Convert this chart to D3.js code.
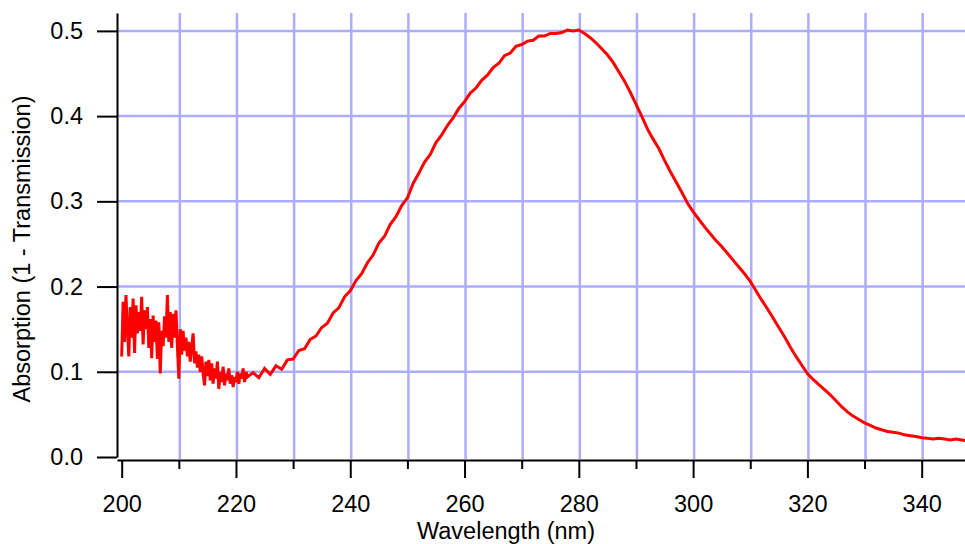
<!DOCTYPE html>
<html>
<head>
<meta charset="utf-8">
<script src="https://d3js.org/d3.v7.min.js"></script>
<style>
  body { margin: 0; background: #fff; }
  svg { display: block; font-family: "Liberation Sans", Arial, sans-serif; }
</style>
</head>
<body>
<div id="plot-container"></div>
<script>
// sampled spectrum: noisy start (0.25 nm steps) then 1 nm steps
var noisyStart = 200, noisyStep = 0.25;
var noisyAbs = [
  0.118, 0.182, 0.135, 0.190, 0.150, 0.118, 0.176, 0.140, 0.186, 0.122,
  0.178, 0.145, 0.170, 0.148, 0.188, 0.132, 0.172, 0.150, 0.176, 0.128,
  0.162, 0.116, 0.166, 0.135, 0.160, 0.115, 0.158, 0.098, 0.148, 0.130,
  0.165, 0.140, 0.190, 0.135, 0.170, 0.128, 0.168, 0.140, 0.172, 0.130,
  0.092, 0.150, 0.120, 0.148, 0.125, 0.140, 0.118, 0.135, 0.112, 0.128,
  0.145, 0.110, 0.124, 0.105, 0.120, 0.100, 0.118, 0.098, 0.084, 0.112,
  0.095, 0.114, 0.090, 0.110, 0.086, 0.104, 0.092, 0.112, 0.080, 0.100,
  0.088, 0.106, 0.084, 0.098, 0.090, 0.104, 0.086, 0.096, 0.082, 0.094,
  0.088, 0.100, 0.086, 0.098, 0.092, 0.104, 0.088, 0.100, 0.094
];
var smoothStart = 223, smoothStep = 1;
var smoothAbs = [
  0.099, 0.093, 0.104, 0.097, 0.107, 0.103, 0.114, 0.115, 0.125, 0.127,
  0.138, 0.142, 0.152, 0.157, 0.169, 0.175, 0.188, 0.195, 0.207, 0.215,
  0.228, 0.237, 0.251, 0.259, 0.273, 0.282, 0.295, 0.304, 0.321, 0.333,
  0.346, 0.355, 0.369, 0.378, 0.389, 0.398, 0.409, 0.417, 0.427, 0.433,
  0.442, 0.448, 0.457, 0.462, 0.471, 0.474, 0.482, 0.484, 0.488, 0.489,
  0.494, 0.494, 0.497, 0.497, 0.498, 0.501, 0.500, 0.501, 0.497, 0.492,
  0.486, 0.479, 0.472, 0.463, 0.452, 0.441, 0.428, 0.414, 0.400, 0.385,
  0.373, 0.362, 0.348, 0.335, 0.323, 0.311, 0.298, 0.288, 0.279, 0.270,
  0.262, 0.254, 0.247, 0.239, 0.231, 0.223, 0.215, 0.206, 0.195, 0.184,
  0.174, 0.163, 0.152, 0.141, 0.129, 0.118, 0.108, 0.098, 0.091, 0.085,
  0.079, 0.073, 0.066, 0.059, 0.053, 0.048, 0.044, 0.040, 0.037, 0.034,
  0.032, 0.030, 0.029, 0.028, 0.026, 0.025, 0.024, 0.0225, 0.022, 0.021,
  0.022, 0.021, 0.020, 0.021, 0.020, 0.019
];

// axis ticks
var xMajorTicks = [200, 220, 240, 260, 280, 300, 320, 340];
var xMinorTicks = [210, 230, 250, 270, 290, 310, 330];
var xGridTicks = [210, 220, 230, 240, 250, 260, 270, 280, 290, 300, 310, 320, 330, 340];
var yTicks = [0.0, 0.1, 0.2, 0.3, 0.4, 0.5];
var yGridTicks = [0.1, 0.2, 0.3, 0.4, 0.5];

var xLabel = "Wavelength (nm)";
var yLabel = "Absorption (1 - Transmission)";

// plot parameters
var width = 965, height = 544;
var gridColor = "#adadff";
var lineColor = "#ff0000";
var fontSize = "23.5px";

drawPlot();

function drawPlot() {
  var data = [];
  noisyAbs.forEach(function(d, i) {
    data.push({ w: noisyStart + i * noisyStep, a: d });
  });
  smoothAbs.forEach(function(d, i) {
    data.push({ w: smoothStart + i * smoothStep, a: d });
  });

  var xScale = d3.scaleLinear()
                 .domain([199.18, 347.58])
                 .range([117, 965]);

  var yScale = d3.scaleLinear()
                 .domain([0, 0.521])
                 .range([457, 13]);

  var svg = d3.select("#plot-container")
              .append("svg")
              .attr("width", width)
              .attr("height", height);

  // grid
  svg.append("g")
     .selectAll("line")
     .data(xGridTicks)
     .enter()
     .append("line")
     .attr("x1", function(d){ return xScale(d) + 1; })
     .attr("x2", function(d){ return xScale(d) + 1; })
     .attr("y1", yScale.range()[1])
     .attr("y2", 459)
     .attr("stroke", gridColor)
     .attr("stroke-width", 2.5);

  svg.append("g")
     .selectAll("line")
     .data(yGridTicks)
     .enter()
     .append("line")
     .attr("x1", 117)
     .attr("x2", width)
     .attr("y1", function(d){ return yScale(d); })
     .attr("y2", function(d){ return yScale(d); })
     .attr("stroke", gridColor)
     .attr("stroke-width", 2.5);

  // spectrum
  var line = d3.line()
               .x(function(d){ return xScale(d.w); })
               .y(function(d){ return yScale(d.a); });

  svg.append("path")
     .datum(data)
     .attr("d", line)
     .attr("fill", "none")
     .attr("stroke", lineColor)
     .attr("stroke-width", 3)
     .attr("stroke-linejoin", "miter");

  // x axis (major + minor ticks)
  var xAxisG = svg.append("g")
                  .attr("transform", "translate(0, 460)")
                  .call(d3.axisBottom(xScale)
                          .tickValues(xMajorTicks)
                          .tickSize(18)
                          .tickSizeOuter(0)
                          .tickFormat(d3.format("d")));

  svg.append("g")
     .attr("transform", "translate(0, 460)")
     .call(d3.axisBottom(xScale)
             .tickValues(xMinorTicks)
             .tickSize(9)
             .tickSizeOuter(0)
             .tickFormat(""))
     .select(".domain").remove();

  xAxisG.selectAll("text")
        .attr("y", 52)
        .attr("dy", 0);

  // y axis
  var yAxisG = svg.append("g")
                  .attr("transform", "translate(117, 0)")
                  .call(d3.axisLeft(yScale)
                          .tickValues(yTicks)
                          .tickSize(20)
                          .tickSizeOuter(0)
                          .tickPadding(14)
                          .tickFormat(d3.format(".1f")));

  svg.selectAll(".domain, .tick line")
     .attr("stroke", "#000")
     .attr("stroke-width", 2);

  svg.selectAll(".tick text")
     .attr("fill", "#000")
     .style("font-size", fontSize);

  // axis titles
  svg.append("text")
     .attr("x", 506)
     .attr("y", 539)
     .attr("text-anchor", "middle")
     .style("font-size", fontSize)
     .text(xLabel);

  svg.append("text")
     .attr("transform", "translate(30, 249) rotate(-90)")
     .attr("text-anchor", "middle")
     .style("font-size", fontSize)
     .text(yLabel);
}
</script>
</body>
</html>
